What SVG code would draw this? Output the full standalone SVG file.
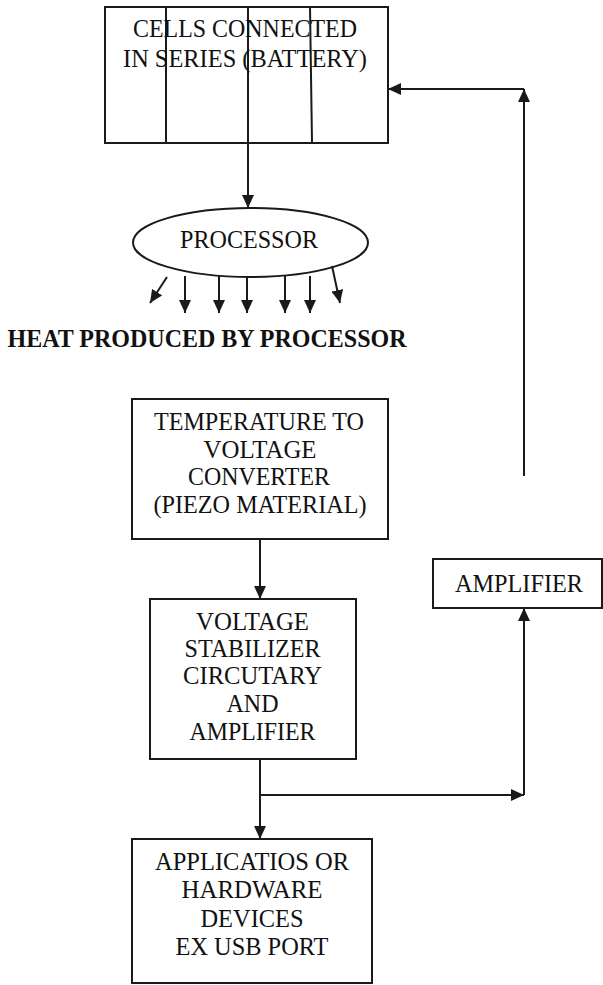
<svg xmlns="http://www.w3.org/2000/svg" width="603" height="985" viewBox="0 0 603 985">
<defs>
<style>
.box{fill:#fff;stroke:#1a1a1a;stroke-width:2}
.ln{fill:none;stroke:#1a1a1a;stroke-width:2}
.t{font-family:"Liberation Serif","Times New Roman",serif;font-size:25px;fill:#111;text-anchor:middle}
.b{font-weight:bold}
</style>
<marker id="ah" markerUnits="userSpaceOnUse" markerWidth="13" markerHeight="12" refX="13" refY="6" orient="auto">
<path d="M0,0 L13,6 L0,12 z" fill="#1a1a1a"/>
</marker>
</defs>
<rect width="603" height="985" fill="#fff"/>

<g id="battery">
<rect class="box" x="105" y="7" width="283" height="136"/>
<line class="ln" x1="166" y1="7" x2="166" y2="143"/>
<line class="ln" x1="248" y1="7" x2="248" y2="143"/>
<line class="ln" x1="310" y1="7" x2="312" y2="143"/>
<text class="t" x="245" y="37" textLength="224" lengthAdjust="spacingAndGlyphs">CELLS CONNECTED</text>
<text class="t" x="245" y="67" textLength="244" lengthAdjust="spacingAndGlyphs">IN SERIES (BATTERY)</text>
</g>

<g id="processor">
<ellipse class="box" cx="250.5" cy="242.5" rx="117.5" ry="34.5"/>
<text class="t" x="249" y="248" textLength="138" lengthAdjust="spacingAndGlyphs">PROCESSOR</text>
</g>

<g id="heat-label">
<text class="t b" x="207" y="347" textLength="399" lengthAdjust="spacingAndGlyphs">HEAT PRODUCED BY PROCESSOR</text>
</g>

<g id="temp-converter">
<rect class="box" x="132" y="399" width="256" height="140"/>
<text class="t" x="259" y="430" textLength="210" lengthAdjust="spacingAndGlyphs">TEMPERATURE TO</text>
<text class="t" x="260" y="458" textLength="113" lengthAdjust="spacingAndGlyphs">VOLTAGE</text>
<text class="t" x="259" y="485" textLength="142" lengthAdjust="spacingAndGlyphs">CONVERTER</text>
<text class="t" x="260" y="513" textLength="213" lengthAdjust="spacingAndGlyphs">(PIEZO MATERIAL)</text>
</g>

<g id="voltage-stabilizer">
<rect class="box" x="150" y="599" width="206" height="160"/>
<text class="t" x="252.5" y="630" textLength="113" lengthAdjust="spacingAndGlyphs">VOLTAGE</text>
<text class="t" x="252.5" y="657" textLength="136" lengthAdjust="spacingAndGlyphs">STABILIZER</text>
<text class="t" x="252.5" y="684" textLength="139" lengthAdjust="spacingAndGlyphs">CIRCUTARY</text>
<text class="t" x="252.5" y="712" textLength="52" lengthAdjust="spacingAndGlyphs">AND</text>
<text class="t" x="252.5" y="740" textLength="126" lengthAdjust="spacingAndGlyphs">AMPLIFIER</text>
</g>

<g id="amplifier">
<rect class="box" x="433" y="559" width="169" height="49"/>
<text class="t" x="519" y="592" textLength="128" lengthAdjust="spacingAndGlyphs">AMPLIFIER</text>
</g>

<g id="applications">
<rect class="box" x="132" y="839" width="240" height="144"/>
<text class="t" x="252" y="870" textLength="194" lengthAdjust="spacingAndGlyphs">APPLICATIOS OR</text>
<text class="t" x="252" y="898" textLength="141" lengthAdjust="spacingAndGlyphs">HARDWARE</text>
<text class="t" x="252" y="927" textLength="103" lengthAdjust="spacingAndGlyphs">DEVICES</text>
<text class="t" x="252" y="955" textLength="153" lengthAdjust="spacingAndGlyphs">EX USB PORT</text>
</g>

<g id="connectors">
<path class="ln" d="M248,143 V208" marker-end="url(#ah)"/>
<path class="ln" d="M167,277 L150,303" marker-end="url(#ah)"/>
<path class="ln" d="M185,276 V313" marker-end="url(#ah)"/>
<path class="ln" d="M219,276 V313" marker-end="url(#ah)"/>
<path class="ln" d="M247,277 V313" marker-end="url(#ah)"/>
<path class="ln" d="M285,276 V313" marker-end="url(#ah)"/>
<path class="ln" d="M310,276 V313" marker-end="url(#ah)"/>
<path class="ln" d="M332,266 L340,303" marker-end="url(#ah)"/>
<path class="ln" d="M260,539 V599" marker-end="url(#ah)"/>
<path class="ln" d="M260,759 V839" marker-end="url(#ah)"/>
<path class="ln" d="M260,795 H524" marker-end="url(#ah)"/>
<path class="ln" d="M524,795 V608" marker-end="url(#ah)"/>
<path class="ln" d="M524,476 V89" marker-end="url(#ah)"/>
<path class="ln" d="M524,89 H388" marker-end="url(#ah)"/>
</g>
</svg>
